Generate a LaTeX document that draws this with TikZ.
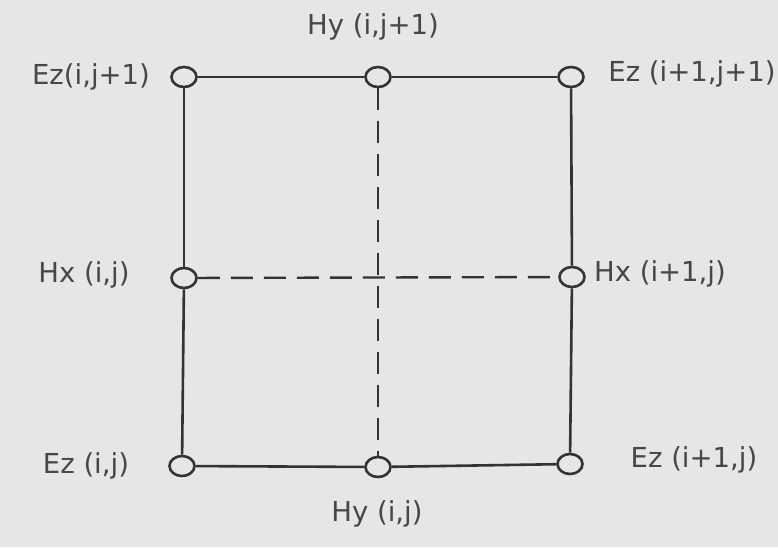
\documentclass[tikz,border=0pt]{standalone}
\usepackage{fontspec}
\setmainfont{DejaVu Sans}
\usetikzlibrary{positioning,shapes.geometric}
\definecolor{paper}{HTML}{E6E6E4}
\definecolor{ink}{HTML}{333333}

\begin{document}
\begin{tikzpicture}[
        x=1pt, y=-1pt,
        pt/.style={draw=ink, line width=2.6pt, ellipse, minimum width=25pt, minimum height=20pt, inner sep=0pt, fill=paper},
        lbl/.style={text=ink!90, font=\fontsize{27.5}{30}\selectfont, inner sep=0pt},
        grid/.style={draw=ink, line width=2.6pt},
        half/.style={draw=ink, line width=2.4pt, dash pattern=on 22pt off 11pt},
    ]
        \fill[paper] (0,0) rectangle (778,547);
        \useasboundingbox (0,0) rectangle (778,547);
        % grid points
        \node[pt] (eztl) at (184,77) {};
        \node[pt] (hytop) at (378,77) {};
        \node[pt] (eztr) at (571,77) {};
        \node[pt] (hxl) at (184,278) {};
        \node[pt] (hxr) at (572,277) {};
        \node[pt] (ezbl) at (182,466) {};
        \node[pt] (hybot) at (378,467) {};
        \node[pt] (ezbr) at (570,464) {};
        % cell edges
        \draw[grid] (eztl) -- (hytop);
        \draw[grid] (hytop) -- (eztr);
        \draw[grid] (eztr) -- (hxr);
        \draw[grid] (hxr) -- (ezbr);
        \draw[grid] (ezbr) -- (hybot);
        \draw[grid] (hybot) -- (ezbl);
        \draw[grid] (ezbl) -- (hxl);
        \draw[grid] (hxl) -- (eztl);
        \draw[half] (hxl) -- (hxr);
        \draw[half] (hytop) -- (hybot);
        % labels
        \node[lbl] (lhytop) at (373,27) {Hy (i,j+1)};
        \node[lbl] (leztl) at (91,77) {Ez(i,j+1)};
        \node[lbl] (leztr) at (692,74) {Ez (i+1,j+1)};
        \node[lbl] (lhxl) at (84,275) {Hx (i,j)};
        \node[lbl] (lhxr) at (660,274) {Hx (i+1,j)};
        \node[lbl] (lezbl) at (86,466) {Ez (i,j)};
        \node[lbl] (lezbr) at (694,460) {Ez (i+1,j)};
        \node[lbl] (lhybot) at (377,514) {Hy (i,j)};
    \end{tikzpicture}
\end{document}
